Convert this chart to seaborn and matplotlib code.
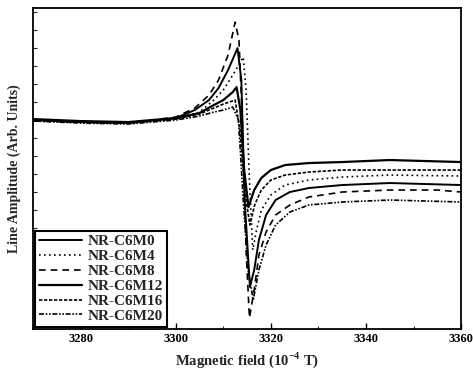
import matplotlib
matplotlib.use("Agg")
import matplotlib.pyplot as plt
import seaborn as sns
from matplotlib.ticker import MultipleLocator, NullFormatter

sns.set_theme(style="white")
plt.rcParams["font.family"] = ["Liberation Serif", "DejaVu Serif"]
plt.rcParams["mathtext.fontset"] = "custom"
plt.rcParams["mathtext.rm"] = "Liberation Serif:bold"
plt.rcParams["mathtext.bf"] = "Liberation Serif:bold"

labels = ["NR-C6M0", "NR-C6M4", "NR-C6M8", "NR-C6M12", "NR-C6M16", "NR-C6M20"]

x_m0 = [3270, 3280, 3290, 3300, 3304, 3307, 3309, 3311, 3313, 3313.8, 3314.5, 3315.6,
        3316.5, 3317.5, 3319, 3321, 3324, 3328, 3335, 3345, 3360]
y_m0 = [0, -2, -3, 2, 10, 20, 32, 50, 72, 40, -80, -167,
        -150, -120, -95, -80, -72, -68, -65, -63, -65]

x_m4 = [3270, 3280, 3290, 3300, 3305, 3308, 3310, 3312, 3314.2, 3314.8, 3315.5, 3316.2,
        3317, 3318, 3320, 3323, 3328, 3335, 3345, 3360]
y_m4 = [-1, -2, -3, 1, 8, 20, 30, 45, 63, 30, -60, -130,
        -110, -90, -75, -65, -60, -57, -55, -56]

x_m8 = [3270, 3280, 3290, 3300, 3304, 3307, 3309, 3311, 3312.5, 3313.3, 3314, 3314.8,
        3315.5, 3316.5, 3317.5, 3319, 3321, 3324, 3328, 3335, 3345, 3355, 3360]
y_m8 = [0, -2, -3, 3, 12, 25, 40, 65, 98, 80, 0, -130,
        -198, -170, -135, -112, -95, -85, -77, -72, -70, -70, -72]

x_m12 = [3270, 3280, 3290, 3300, 3305, 3308, 3310, 3312, 3312.8, 3313.6, 3314.4, 3315.3,
         3316.5, 3318, 3320, 3323, 3328, 3335, 3345, 3360]
y_m12 = [1, -1, -2, 2, 7, 15, 20, 28, 33, 10, -50, -87,
         -70, -58, -50, -45, -43, -42, -40, -42]

x_m16 = [3270, 3280, 3290, 3300, 3305, 3308, 3310, 3312.5, 3313.5, 3314.5, 3315.6,
         3316.6, 3318, 3320, 3323, 3328, 3335, 3345, 3360]
y_m16 = [0, -2, -3, 1, 6, 12, 16, 20, -10, -70, -105,
         -85, -70, -60, -55, -52, -50, -50, -50]

x_m20 = [3270, 3280, 3290, 3300, 3305, 3308, 3310, 3312, 3313.2, 3314.2, 3315.2, 3316.3,
         3317.5, 3319, 3321, 3324, 3328, 3335, 3345, 3360]
y_m20 = [-1, -3, -4, 0, 4, 8, 10, 13, 0, -80, -150, -180,
         -150, -125, -105, -92, -85, -82, -80, -82]

xs = [x_m0, x_m4, x_m8, x_m12, x_m16, x_m20]
ys = [y_m0, y_m4, y_m8, y_m12, y_m16, y_m20]
styles = ["-", (0, (1, 2)), (0, (4, 3)), "-", (0, (2, 1)), (0, (3, 1, 1, 1, 1, 1))]
widths = [1.4, 1.2, 1.2, 1.6, 1.2, 1.2]

fig = plt.figure(figsize=(4.73, 3.70), dpi=100)
ax = fig.add_axes([0.0698, 0.111, 0.905, 0.867])

for xv, yv, lab, ls, lw in zip(xs, ys, labels, styles, widths):
    sns.lineplot(x=xv, y=yv, ax=ax, color="black", linestyle=ls, linewidth=lw,
                 label=lab, sort=False)

ax.set_xlim(3270, 3360)
ax.set_ylim(-209, 112)
ax.xaxis.set_major_locator(MultipleLocator(20))
ax.xaxis.set_minor_locator(MultipleLocator(10))
ax.yaxis.set_major_locator(MultipleLocator(18))
ax.yaxis.set_major_formatter(NullFormatter())
ax.tick_params(axis="x", which="major", direction="in", length=4, width=1, bottom=True,
               top=False, labelsize=9, pad=3, colors="black")
ax.tick_params(axis="x", which="minor", direction="in", length=2.5, width=0.8, bottom=True, top=False)
ax.tick_params(axis="y", which="major", direction="in", length=3, width=0.8, left=True, right=False)
for lab in ax.get_xticklabels():
    lab.set_fontweight("bold")
for sp in ax.spines.values():
    sp.set_color("black")
    sp.set_linewidth(1.3)

ax.set_xlabel(r"Magnetic field (10$^{-4}$ T)", fontsize=10.5, fontweight="bold", labelpad=4)
ax.set_ylabel("Line Amplitude (Arb. Units)", fontsize=10, fontweight="bold", labelpad=5)

leg = ax.legend(loc="lower left", frameon=True, fancybox=False,
                handlelength=2.8, handletextpad=0.4, labelspacing=0.08,
                borderpad=0.25, borderaxespad=0.15, prop={"weight": "bold", "size": 11})
leg.get_frame().set_edgecolor("black")
leg.get_frame().set_linewidth(1.5)
leg.get_frame().set_alpha(1)

fig.savefig("out.png", dpi=100)
